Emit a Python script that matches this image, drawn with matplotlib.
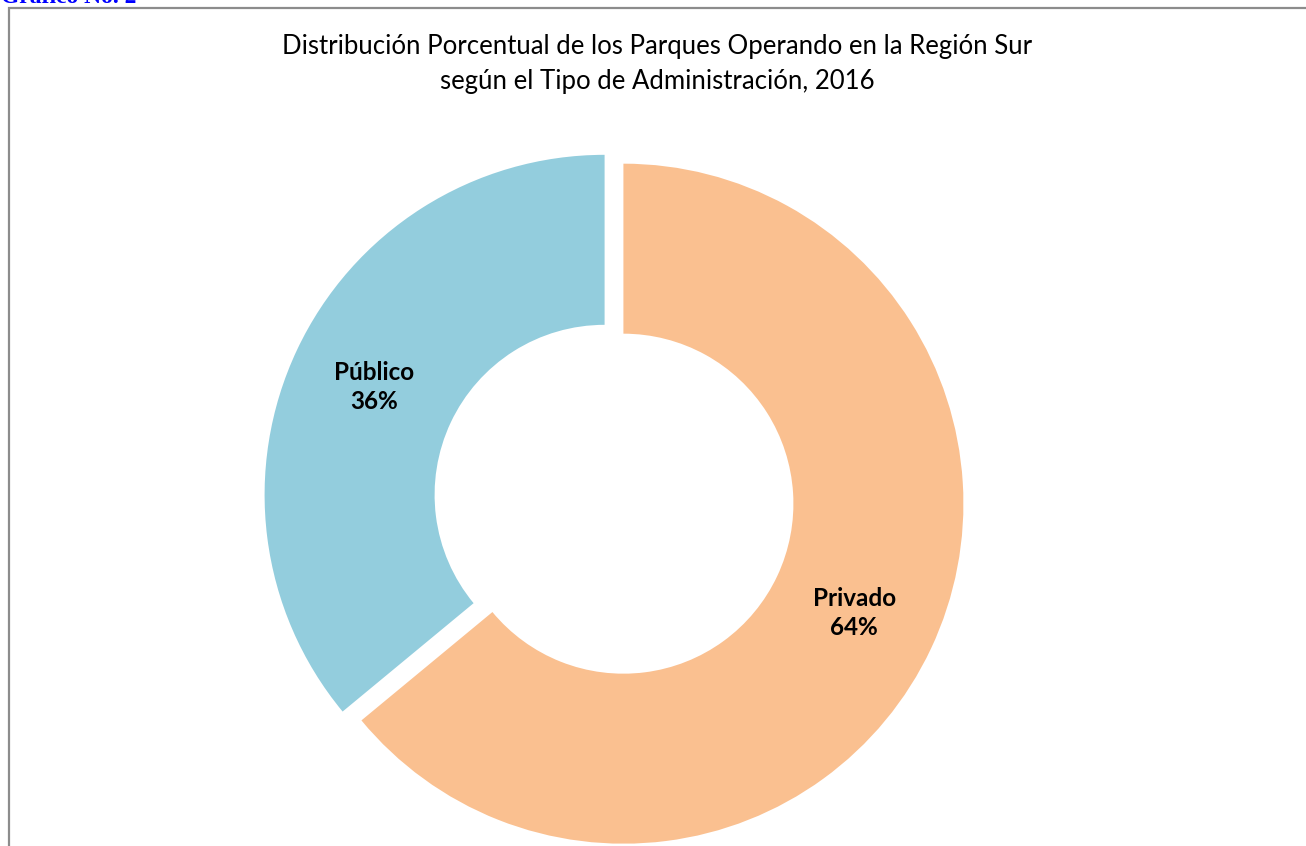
import matplotlib
matplotlib.use('Agg')
import matplotlib.pyplot as plt
from matplotlib.patches import Rectangle
import numpy as np

categorias = ['Privado', 'Público']
porcentajes = [64, 36]
colores = ['#FAC090', '#93CDDD']
titulo = 'Distribución Porcentual de los Parques Operando en la Región Sur\nsegún el Tipo de Administración, 2016'

W, H = 1306, 846
fig = plt.figure(figsize=(W / 100, H / 100), dpi=100)
ax = fig.add_axes([0, 0, 1, 1])
ax.set_xlim(0, W)
ax.set_ylim(0, H)
ax.axis('off')

# marco del grafico (se sale por la derecha y abajo)
fig.patches.append(Rectangle((9 / W, -0.1), 1.2, 1 - 8 / H + 0.1, transform=fig.transFigure,
                             fill=False, edgecolor='#8c8c8c', linewidth=1.6))

fig.text(1 / W, 1 - 3 / H, 'Gráfico No. 2', color='#0000FF', fontsize=17,
         fontweight='bold', family='Liberation Serif', va='baseline', ha='left')

R = 340
wedges, _ = ax.pie(porcentajes, colors=colores, startangle=90, counterclock=False,
                   radius=R, center=(614, H - 499.25), explode=[10.4, 10.4],
                   wedgeprops=dict(width=170, linewidth=0))
ax.set_xlim(0, W)
ax.set_ylim(0, H)

for w, cat, p in zip(wedges, categorias, porcentajes):
    ang = np.deg2rad((w.theta1 + w.theta2) / 2)
    cx, cy = w.center
    rr = w.r - w.width / 2
    ax.text(cx + rr * np.cos(ang), cy + rr * np.sin(ang) - 1, f'{cat}\n{p}%',
            ha='center', va='center', fontsize=17.5, fontweight='bold',
            family='Lato', linespacing=1.3)

ax.text(W / 2 + 4, H - 64, titulo, ha='center', va='center', fontsize=18.5,
        family='Lato', linespacing=1.5)

fig.savefig('out.png', dpi=100)
